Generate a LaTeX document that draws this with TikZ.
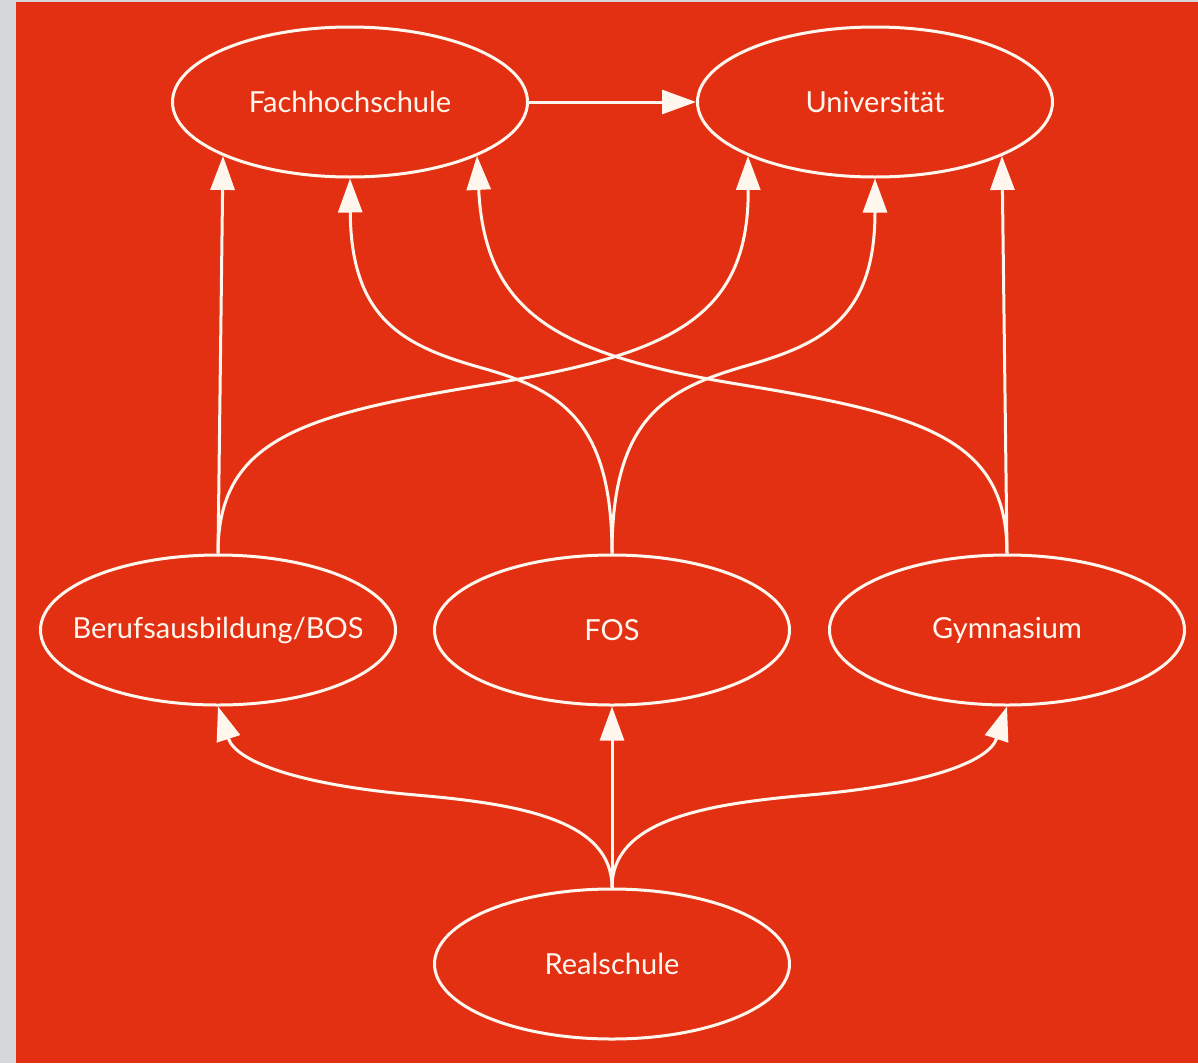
\documentclass[tikz,border=0pt]{standalone}
\usepackage{fontspec}
\setmainfont{Lato}
\usetikzlibrary{shapes.geometric,arrows.meta}
\definecolor{bgred}{RGB}{227,47,18}
\definecolor{frame}{RGB}{214,215,217}
\definecolor{ink}{RGB}{255,247,238}
\newcommand{\nodetext}[1]{\makebox[0pt][c]{#1}}
\begin{document}
\begin{tikzpicture}[x=1pt,y=-1pt,
  school/.style={ellipse, draw=ink, line width=3pt, minimum width=355pt, minimum height=150pt,
    inner sep=0pt, text=ink, font=\fontsize{29}{34}\selectfont},
  link/.style={draw=ink, line width=3pt, -{Triangle[length=34pt,width=24pt]}}]
\useasboundingbox (0,0) rectangle (1198,1063);
\fill[frame] (0,0) rectangle (1198,1063);
\fill[bgred] (16,2) rectangle (1198,1063);

\node[school] (fh)   at (350,102) {\nodetext{Fachhochschule}};
\node[school] (uni)  at (875,102) {\nodetext{Universität}};
\node[school] (bos)  at (218,630) {\nodetext{Berufsausbildung/BOS}};
\node[school] (fos)  at (612,630) {\nodetext{FOS}};
\node[school] (gym)  at (1007,630) {\nodetext{Gymnasium}};
\node[school] (real) at (612,964) {\nodetext{Realschule}};

\coordinate (mBU) at (484,385);
\coordinate (mFF) at (482,368);
\coordinate (mFU) at (742,367);
\coordinate (mGF) at (743,385);
\coordinate (mRB) at (416,795);
\coordinate (mRG) at (809,795);

\draw[link] (fh.east) -- (uni.west);
\draw[link] (bos.north) -- (fh.203);
\draw[link] (bos.north) .. controls (218,440) and (300,415) .. (mBU)
  .. controls (668,355) and (749,320) .. (uni.203);
\draw[link] (fos.north) .. controls (612,420) and (560,390) .. (mFF)
  .. controls (404,346) and (351,320) .. (fh.south);
\draw[link] (fos.north) .. controls (612,420) and (664,390) .. (mFU)
  .. controls (820,345) and (875,320) .. (uni.south);
\draw[link] (gym.north) .. controls (1007,440) and (927,415) .. (mGF)
  .. controls (559,355) and (485,315) .. (fh.337);
\draw[link] (gym.north) -- (uni.337);

\draw[link] (real.north) .. controls (612,820) and (520,804) .. (mRB)
  .. controls (300,785) and (236,762) .. (bos.south);
\draw[link] (real.north) -- (fos.south);
\draw[link] (real.north) .. controls (612,820) and (705,804) .. (mRG)
  .. controls (925,785) and (989,762) .. (gym.south);
\end{tikzpicture}
\end{document}
